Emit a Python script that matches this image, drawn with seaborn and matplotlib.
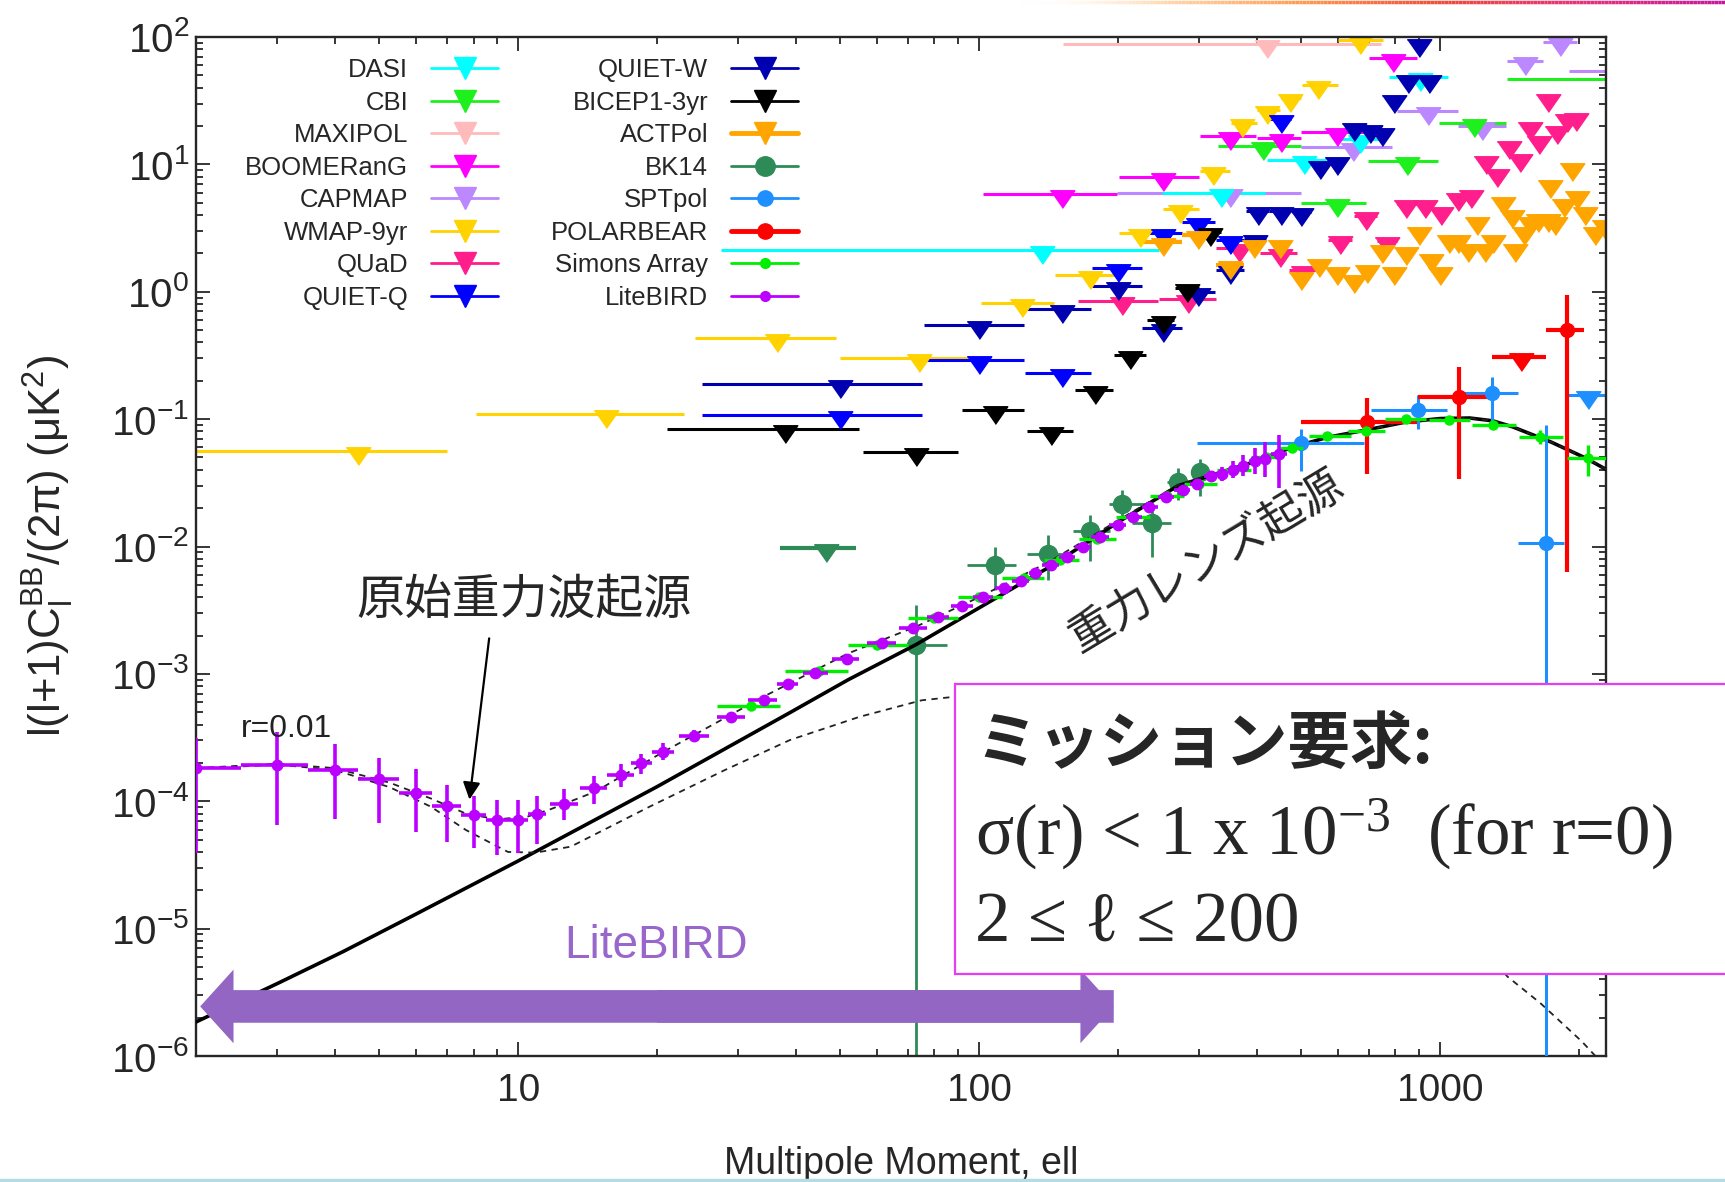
import numpy as np
import pandas as pd
import matplotlib
matplotlib.use('Agg')
import matplotlib.pyplot as plt
import matplotlib.ticker as mticker
from matplotlib.patches import Rectangle, FancyArrowPatch
from matplotlib.lines import Line2D
from matplotlib.collections import LineCollection
from matplotlib.colors import LinearSegmentedColormap
import seaborn as sns

# ---------------- theory curves ----------------
LENS_ELL = [2, 3, 4.17, 6, 10, 20, 39, 52, 73, 100, 142, 200, 270, 386, 477, 570,
            689, 844, 1000, 1160, 1300, 1436, 1742, 2056, 2300]
LENS_DL = [1.85e-6, 3.7e-6, 6.6e-6, 1.3e-5, 3.4e-5, 1.3e-4, 5.0e-4, 9.0e-4, 1.7e-3,
           3.3e-3, 6.9e-3, 0.0155, 0.030, 0.045, 0.060, 0.072, 0.082, 0.095, 0.101,
           0.102, 0.097, 0.087, 0.066, 0.050, 0.040]

TENS_ELL = [2, 3, 4, 5.26, 6.47, 7.7, 9.5, 10.9, 13, 19.2, 28, 38.9, 55, 75, 95, 130,
            180, 250, 350, 500, 700, 1000, 1400, 1650, 2030, 2300]
TENS_DL = [1.8e-4, 1.94e-4, 1.76e-4, 1.29e-4, 9.05e-5, 5.95e-5, 4.0e-5, 3.95e-5, 4.4e-5,
           9.0e-5, 1.75e-4, 3.03e-4, 4.6e-4, 6.2e-4, 6.8e-4, 6.5e-4, 5.0e-4, 3.2e-4,
           1.8e-4, 8.5e-5, 4.0e-5, 1.7e-5, 4.2e-6, 2.6e-6, 1.3e-6, 8e-7]

TOT_ELL = [2, 3, 4, 5.26, 6.47, 7.7, 9, 10.5, 11.7, 14.7, 20.4, 34, 52, 73, 100, 142,
           200, 270, 386, 477, 570, 689, 844, 1000, 1160, 1300, 1436, 1742, 2056, 2300]
TOT_DL = [1.82e-4, 1.97e-4, 1.82e-4, 1.4e-4, 1.05e-4, 8.0e-5, 7.2e-5, 7.6e-5, 8.6e-5,
          1.19e-4, 2.38e-4, 6.6e-4, 1.45e-3, 2.35e-3, 4.0e-3, 7.6e-3, 0.016, 0.0305,
          0.0455, 0.060, 0.072, 0.082, 0.095, 0.101, 0.102, 0.097, 0.087, 0.066, 0.050, 0.040]

# ---------------- upper limits: centre, bin low, bin high, value ----------------
DASI_ELL = [137, 334, 506, 670, 906]
DASI_LO = [27.5, 249, 422, 600, 773]
DASI_HI = [245, 417, 565, 740, 1040]
DASI_DL = [2.14, 6.0, 10.9, 15.9, 48.5]

CBI_ELL = [413, 597, 848, 1186, 2500]
CBI_LO = [330, 498, 699, 995, 1400]
CBI_HI = [498, 692, 989, 1390, 2700]
CBI_DL = [13.9, 5.0, 10.7, 21, 46.6]

MAXI_ELL = [422]
MAXI_LO = [152]
MAXI_HI = [743]
MAXI_DL = [88]

BOOM_ELL = [151, 250, 350, 451, 597, 789]
BOOM_LO = [102, 201, 302, 400, 500, 700]
BOOM_HI = [199, 300, 398, 500, 700, 890]
BOOM_DL = [5.9, 7.9, 16.6, 16, 18, 68]

CAP_ELL = [350, 647, 942, 1231, 1528, 1820, 2450]
CAP_LO = [199, 498, 807, 1091, 1400, 1675, 1900]
CAP_HI = [498, 788, 1091, 1390, 1675, 1980, 2700]
CAP_DL = [5.95, 13.6, 26.4, 20, 65, 91, 54]

WMAP_ELL = [4.5, 15.5, 36.5, 74, 124, 174, 223, 273, 322, 372, 422, 473, 543, 670]
WMAP_LO = [2, 8.1, 24.2, 50, 101, 146, 201, 251, 301, 351, 401, 451, 501, 601]
WMAP_HI = [7, 22.9, 49, 96, 145, 200, 250, 300, 350, 400, 450, 500, 600, 750]
WMAP_DL = [0.056, 0.11, 0.43, 0.30, 0.82, 1.35, 2.9, 4.5, 8.8, 21, 26.7, 33, 42, 95]

QUAD_ELL = [204, 284, 366, 449, 504, 607, 689, 767, 843, 927, 1004, 1092, 1166, 1259,
            1331, 1413, 1493, 1570, 1641, 1714, 1791, 1880, 1976]
QUAD_LO = [164, 245, 327, 406, 470, 570, 650, 730, 805, 885, 970, 1045, 1130, 1210,
           1300, 1370, 1455, 1530, 1605, 1680, 1750, 1830, 1930]
QUAD_HI = [244, 326, 405, 490, 540, 645, 730, 805, 885, 970, 1045, 1130, 1210, 1300,
           1370, 1450, 1530, 1605, 1680, 1750, 1830, 1930, 2020]
QUAD_DL = [0.85, 0.87, 2.2, 2.0, 1.49, 2.55, 3.9, 2.5, 4.9, 4.9, 4.3, 5.5, 5.9, 10.8,
           8.5, 14.2, 11.2, 20, 15.5, 33, 18.7, 23.2, 23.5]

QQ_ELL = [50, 100, 151, 200, 250, 298, 350, 451]
QQ_LO = [25, 76, 126, 176, 226, 276, 326, 426]
QQ_HI = [75, 125, 175, 225, 275, 325, 375, 475]
QQ_DL = [0.108, 0.29, 0.23, 1.54, 2.9, 3.55, 2.55, 22.8]

QW_ELL = [50, 100, 151, 200, 250, 298, 350, 397, 402, 451, 498, 550, 597, 651, 703,
          747, 794, 852, 900, 946]
QW_LO = [25, 76, 126, 176, 226, 276, 326, 376, 380, 426, 476, 526, 576, 626, 676,
         726, 776, 826, 876, 926]
QW_HI = [75, 125, 175, 225, 275, 325, 375, 420, 425, 475, 525, 575, 625, 675, 725,
         775, 825, 875, 925, 975]
QW_DL = [0.19, 0.55, 0.73, 1.10, 0.52, 1.0, 1.48, 2.6, 4.3, 4.3, 4.2, 9.8, 10.7, 19.6,
         19, 18, 32.8, 47, 89, 47]

B1_ELL = [38, 73, 108, 143, 178, 212, 250, 283, 317]
B1_LO = [21, 56, 92, 127, 161, 196, 231, 266, 301]
B1_HI = [55, 90, 125, 160, 195, 230, 265, 300, 335]
B1_DL = [0.083, 0.055, 0.118, 0.080, 0.17, 0.32, 0.60, 1.07, 2.94]

ACT_ELL = [250, 298, 350, 395, 449, 498, 547, 597, 651, 695, 747, 794, 843, 900, 957,
           999, 1044, 1095, 1148, 1203, 1253, 1303, 1370, 1430, 1450, 1518, 1570, 1630,
           1714, 1730, 1775, 1855, 1930, 1980, 2060, 2170, 2270]
ACT_LO = [226, 276, 326, 383, 436, 483, 531, 579, 632, 674, 725, 770, 818, 873, 928,
          969, 1013, 1062, 1114, 1167, 1215, 1264, 1329, 1387, 1407, 1472, 1523, 1581,
          1663, 1678, 1722, 1799, 1872, 1921, 1998, 2105, 2202]
ACT_HI = [275, 325, 375, 407, 462, 513, 563, 615, 670, 716, 769, 818, 868, 927, 986,
          1029, 1075, 1128, 1182, 1239, 1291, 1342, 1411, 1473, 1494, 1564, 1617, 1679,
          1765, 1782, 1828, 1911, 1988, 2039, 2122, 2235, 2338]
ACT_DL = [2.47, 2.8, 1.62, 2.36, 2.36, 1.33, 1.69, 1.45, 1.25, 1.5, 2.18, 1.45, 2.1,
          3.0, 1.84, 1.45, 2.6, 2.6, 2.2, 3.6, 2.2, 2.6, 5.2, 4.1, 2.2, 3.0, 3.6, 3.8,
          3.8, 7.0, 3.6, 5.0, 9.6, 5.7, 4.3, 3.0, 3.4]

BKU_ELL, BKU_LO, BKU_HI, BKU_DL = [46.6], [37], [54], [0.0098]
SPU_ELL, SPU_LO, SPU_HI, SPU_DL = [2090], [1890], [2300], [0.155]
PBU_ELL, PBU_LO, PBU_HI, PBU_DL = [1495], [1294], [1694], [0.307]

# ---------------- detections: centre, bin, value, error range ----------------
BK_ELL = [73, 108, 141, 174, 204, 237, 270, 302]
BK_LO = [62, 94, 127, 160, 191, 215, 255, 290]
BK_HI = [85, 120, 158, 192, 233, 261, 290, 320]
BK_DL = [0.0017, 0.0071, 0.0088, 0.0132, 0.0216, 0.0153, 0.032, 0.0386]
BK_YLO = [1e-7, 0.00457, 0.0055, 0.0077, 0.0172, 0.0083, 0.023, 0.025]
BK_YHI = [0.0035, 0.0100, 0.0124, 0.0178, 0.0279, 0.0191, 0.041, 0.049]

SP_ELL = [500, 895, 1294, 1694]
SP_LO = [297, 709, 1110, 1474]
SP_HI = [683, 1037, 1474, 1860]
SP_DL = [0.0645, 0.118, 0.161, 0.0106]
SP_YLO = [0.039, 0.083, 0.0875, 1e-7]
SP_YHI = [0.083, 0.155, 0.215, 0.0896]

PB_ELL = [695, 1100, 1880]
PB_LO = [500, 895, 1694]
PB_HI = [890, 1294, 2055]
PB_DL = [0.095, 0.149, 0.50]
PB_YLO = [0.037, 0.034, 0.0063]
PB_YHI = [0.146, 0.257, 0.94]

SA_ELL = [32, 45, 60, 80, 100, 125, 150, 180, 215, 255, 300, 355, 420, 477, 568, 689,
          844, 1044, 1303, 1648, 2090]
SA_LO = [27, 38, 52, 70, 90, 112, 138, 165, 198, 235, 278, 328, 388, 450, 519, 630,
         760, 945, 1175, 1480, 1880]
SA_HI = [37, 52, 70, 90, 112, 138, 165, 198, 235, 278, 328, 388, 450, 505, 641, 760,
         930, 1160, 1460, 1850, 2300]
SA_DL = [5.6e-4, 1.05e-3, 1.7e-3, 2.75e-3, 4.0e-3, 5.7e-3, 7.9e-3, 0.0115, 0.017,
         0.025, 0.031, 0.040, 0.050, 0.0597, 0.074, 0.080, 0.100, 0.098, 0.0905,
         0.0728, 0.0493]
SA_YLO = [5.3e-4, 1.0e-3, 1.62e-3, 2.62e-3, 3.8e-3, 5.4e-3, 7.5e-3, 0.0109, 0.0161,
          0.0237, 0.0294, 0.038, 0.047, 0.056, 0.070, 0.075, 0.094, 0.092, 0.084,
          0.064, 0.0355]
SA_YHI = [5.9e-4, 1.1e-3, 1.78e-3, 2.9e-3, 4.2e-3, 6.0e-3, 8.3e-3, 0.0121, 0.0179,
          0.0263, 0.0326, 0.042, 0.053, 0.063, 0.078, 0.085, 0.106, 0.105, 0.097,
          0.082, 0.063]

LB_ELL = [2, 3, 4, 5, 6, 7, 8, 9, 10, 11, 12.6, 14.6, 16.7, 18.5, 20.6, 24.1, 29, 34.1,
          38.5, 44.1, 51.6, 61.5, 72, 81.5, 92, 102, 113, 123, 132, 143, 155, 168, 183,
          200, 216, 234, 254, 277, 297, 318, 336, 356, 374, 396, 416, 447]
LB_LO = [1.5, 2.5, 3.5, 4.5, 5.5, 6.5, 7.5, 8.5, 9.5, 10.5, 11.7, 13.6, 15.6, 17.6,
         19.5, 22.3, 27, 31.5, 36.5, 41.5, 48, 57, 67, 77, 87, 97, 108, 118, 128, 137,
         149, 161, 175, 191, 208, 225, 244, 265, 287, 307, 327, 346, 365, 385, 406, 430]
LB_HI = [2.5, 3.5, 4.5, 5.5, 6.5, 7.5, 8.5, 9.5, 10.5, 11.5, 13.5, 15.6, 17.8, 19.5,
         21.8, 26, 31, 36.5, 40.5, 47, 55, 66, 77, 86, 97, 107, 118, 128, 137, 149, 161,
         175, 191, 208, 225, 244, 265, 287, 307, 327, 346, 365, 385, 406, 430, 465]
LB_DL = [1.81e-4, 1.92e-4, 1.76e-4, 1.49e-4, 1.17e-4, 9.2e-5, 7.8e-5, 7.1e-5, 7.1e-5,
         7.9e-5, 9.5e-5, 1.26e-4, 1.6e-4, 1.98e-4, 2.45e-4, 3.26e-4, 4.6e-4, 6.2e-4,
         8.3e-4, 1.01e-3, 1.32e-3, 1.76e-3, 2.3e-3, 2.8e-3, 3.4e-3, 4.0e-3, 4.7e-3,
         5.4e-3, 6.2e-3, 7.2e-3, 8.3e-3, 0.010, 0.0119, 0.0147, 0.0171, 0.0205, 0.0246,
         0.0277, 0.031, 0.0355, 0.037, 0.040, 0.043, 0.0466, 0.049, 0.053]
LB_YLO = [3.9e-5, 6.5e-5, 7.2e-5, 6.8e-5, 5.7e-5, 4.8e-5, 4.3e-5, 3.8e-5, 3.9e-5,
          4.6e-5, 7.1e-5, 9.6e-5, 1.3e-4, 1.65e-4, 2.1e-4, 2.9e-4, 4.3e-4, 5.8e-4,
          7.8e-4, 9.5e-4, 1.25e-3, 1.67e-3, 2.2e-3, 2.68e-3, 3.25e-3, 3.85e-3, 4.5e-3,
          5.2e-3, 6.0e-3, 6.95e-3, 8.0e-3, 9.6e-3, 0.0113, 0.0138, 0.0160, 0.0190,
          0.0228, 0.0255, 0.0283, 0.0320, 0.0325, 0.0345, 0.036, 0.037, 0.035, 0.0286]
LB_YHI = [3.16e-4, 3.5e-4, 2.8e-4, 2.2e-4, 1.8e-4, 1.35e-4, 1.1e-4, 1.03e-4, 1.03e-4,
          1.1e-4, 1.25e-4, 1.58e-4, 1.95e-4, 2.35e-4, 2.85e-4, 3.6e-4, 4.9e-4, 6.6e-4,
          8.8e-4, 1.07e-3, 1.39e-3, 1.85e-3, 2.4e-3, 2.92e-3, 3.55e-3, 4.15e-3, 4.9e-3,
          5.6e-3, 6.4e-3, 7.45e-3, 8.6e-3, 0.0104, 0.0125, 0.0156, 0.0182, 0.0220,
          0.0265, 0.0300, 0.0340, 0.0395, 0.0420, 0.0465, 0.052, 0.059, 0.066, 0.0754]

LITEBIRD_RANGE = (2, 200)

COLORS = {
    'DASI': '#00FFFF', 'CBI': '#1EF01E', 'MAXIPOL': '#FFBBBB', 'BOOMERanG': '#FF00FF',
    'CAPMAP': '#BB88FF', 'WMAP-9yr': '#FFD200', 'QUaD': '#FF1E8C', 'QUIET-Q': '#0000FF',
    'QUIET-W': '#0000B0', 'BICEP1-3yr': '#000000', 'ACTPol': '#FFA500', 'BK14': '#2E8B57',
    'SPTpol': '#1E8FFF', 'POLARBEAR': '#FF0000', 'Simons Array': '#00EE00',
    'LiteBIRD': '#BB00FF',
}

# triangle hanging just below the limit value
TRI = [(-1.15, 0.35), (1.15, 0.35), (0, -1.3)]

sns.set_style('ticks')
plt.rcParams['font.family'] = ['Liberation Sans', 'Noto Sans CJK JP', 'DejaVu Sans']
plt.rcParams['axes.linewidth'] = 1.7
plt.rcParams['lines.dashed_pattern'] = (3.5, 3.0)

fig = plt.figure(figsize=(17.25, 11.82), dpi=100)
ax = fig.add_axes([196 / 1725, 1 - 1056 / 1182, 1410 / 1725, 1019 / 1182])
ax.set_xscale('log')
ax.set_yscale('log')


def limits(ell, lo, hi, dl, name, lw=2.2, ms=20, z=2.2):
    ell = np.asarray(ell, float)
    ax.errorbar(ell, dl, xerr=[ell - np.asarray(lo), np.asarray(hi) - ell],
                marker=TRI, ms=ms, ls='none', color=COLORS[name], mec=COLORS[name],
                elinewidth=lw, capsize=0, zorder=z)


def points(ell, lo, hi, dl, ylo, yhi, name, ms, lw, z):
    ell = np.asarray(ell, float)
    dl = np.asarray(dl, float)
    ax.errorbar(ell, dl, xerr=[ell - np.asarray(lo), np.asarray(hi) - ell],
                yerr=[dl - np.asarray(ylo), np.asarray(yhi) - dl], fmt='o', ms=ms,
                color=COLORS[name], mec=COLORS[name], elinewidth=lw, capsize=0, zorder=z)


limits(MAXI_ELL, MAXI_LO, MAXI_HI, MAXI_DL, 'MAXIPOL')
limits(CAP_ELL, CAP_LO, CAP_HI, CAP_DL, 'CAPMAP')
limits(DASI_ELL, DASI_LO, DASI_HI, DASI_DL, 'DASI')
limits(CBI_ELL, CBI_LO, CBI_HI, CBI_DL, 'CBI')
limits(BOOM_ELL, BOOM_LO, BOOM_HI, BOOM_DL, 'BOOMERanG')
limits(WMAP_ELL, WMAP_LO, WMAP_HI, WMAP_DL, 'WMAP-9yr')
limits(QUAD_ELL, QUAD_LO, QUAD_HI, QUAD_DL, 'QUaD')
limits(QW_ELL, QW_LO, QW_HI, QW_DL, 'QUIET-W')
limits(QQ_ELL, QQ_LO, QQ_HI, QQ_DL, 'QUIET-Q')
limits(B1_ELL, B1_LO, B1_HI, B1_DL, 'BICEP1-3yr')
limits(ACT_ELL, ACT_LO, ACT_HI, ACT_DL, 'ACTPol', lw=3.0)
limits(BKU_ELL, BKU_LO, BKU_HI, BKU_DL, 'BK14', lw=3.0)
limits(SPU_ELL, SPU_LO, SPU_HI, SPU_DL, 'SPTpol')
limits(PBU_ELL, PBU_LO, PBU_HI, PBU_DL, 'POLARBEAR', lw=3.0)

points(BK_ELL, BK_LO, BK_HI, BK_DL, BK_YLO, BK_YHI, 'BK14', ms=13, lw=2.0, z=2.3)

# theory curves
sns.lineplot(x=LENS_ELL, y=LENS_DL, ax=ax, color='black', lw=2.6, zorder=2.6,
             estimator=None, sort=False)
sns.lineplot(x=TENS_ELL, y=TENS_DL, ax=ax, color='#222222', lw=1.3, linestyle='--',
             zorder=2.6, estimator=None, sort=False)
sns.lineplot(x=TOT_ELL, y=TOT_DL, ax=ax, color='#222222', lw=1.3, linestyle='--',
             zorder=2.6, estimator=None, sort=False)

points(SP_ELL, SP_LO, SP_HI, SP_DL, SP_YLO, SP_YHI, 'SPTpol', ms=10, lw=2.2, z=2.7)
points(PB_ELL, PB_LO, PB_HI, PB_DL, PB_YLO, PB_YHI, 'POLARBEAR', ms=10, lw=3.0, z=2.8)
points(SA_ELL, SA_LO, SA_HI, SA_DL, SA_YLO, SA_YHI, 'Simons Array', ms=6.5, lw=2.4, z=2.9)
points(LB_ELL, LB_LO, LB_HI, LB_DL, LB_YLO, LB_YHI, 'LiteBIRD', ms=7.5, lw=2.6, z=3.0)

ax.set_xlim(2, 2290)
ax.set_ylim(1e-6, 1e2)

# ticks
ax.xaxis.set_major_locator(mticker.LogLocator(base=10, numticks=10))
ax.xaxis.set_minor_locator(mticker.LogLocator(base=10, subs=np.arange(2, 10), numticks=100))
ax.yaxis.set_major_locator(mticker.LogLocator(base=10, numticks=20))
ax.yaxis.set_minor_locator(mticker.LogLocator(base=10, subs=np.arange(2, 10), numticks=100))
ax.xaxis.set_major_formatter(mticker.FuncFormatter(lambda v, p: f'{v:g}'))
ax.xaxis.set_minor_formatter(mticker.NullFormatter())
ax.yaxis.set_major_formatter(mticker.FuncFormatter(
    lambda v, p: r'$\mathregular{10^{%d}}$' % round(np.log10(v))))
ax.yaxis.set_minor_formatter(mticker.NullFormatter())
ax.tick_params(which='both', direction='in', top=True, right=True, width=1.1, color='black')
ax.tick_params(which='major', length=10)
ax.tick_params(which='minor', length=5)
ax.tick_params(axis='x', which='major', labelsize=28, pad=12)
ax.tick_params(axis='y', which='major', labelsize=29, pad=5)

ax.set_xlabel('Multipole Moment, ell', fontsize=27)
ax.xaxis.set_label_coords(0.5, -0.088)
ax.set_ylabel(r'l(l+1)$\mathregular{C_l^{BB}}$/(2π) (μ$\mathregular{K^2}$)', fontsize=31.5)
ax.yaxis.set_label_coords(-0.085, 0.5)

# legend, two right-aligned columns
def handle(name, marker, ms, lw=2.0):
    return Line2D([], [], color=COLORS[name], marker=marker, ms=ms, lw=lw, mec=COLORS[name])

col1 = ['DASI', 'CBI', 'MAXIPOL', 'BOOMERanG', 'CAPMAP', 'WMAP-9yr', 'QUaD', 'QUIET-Q']
col2 = ['QUIET-W', 'BICEP1-3yr', 'ACTPol', 'BK14', 'SPTpol', 'POLARBEAR', 'Simons Array',
        'LiteBIRD']
h1 = [handle(n, 'v', 16) for n in col1]
h2 = [handle('QUIET-W', 'v', 16), handle('BICEP1-3yr', 'v', 16),
      handle('ACTPol', 'v', 16, lw=3.5), handle('BK14', 'o', 14),
      handle('SPTpol', 'o', 11), handle('POLARBEAR', 'o', 11, lw=3.5),
      handle('Simons Array', 'o', 7), handle('LiteBIRD', 'o', 7)]
leg_kw = dict(loc='upper right', frameon=False, markerfirst=False, fontsize=18.5,
              handlelength=2.6, handletextpad=0.9, labelspacing=0.33, borderpad=0,
              borderaxespad=0)
leg1 = ax.legend(h1, col1, bbox_to_anchor=(0.2142, 0.979), **leg_kw)
ax.add_artist(leg1)
ax.legend(h2, col2, bbox_to_anchor=(0.427, 0.979), **leg_kw)

# annotations
ax.text(2.5, 3.2e-4, 'r=0.01', fontsize=23, color='#222222', va='baseline', ha='left')
ax.text(10.3, 3.8e-3, '原始重力波起源', fontsize=34.5, ha='center', va='center',
        family=['Noto Sans CJK JP'])
ax.annotate('', xy=(7.84, 1.03e-4), xytext=(8.65, 1.9e-3),
            arrowprops=dict(arrowstyle='-|>', color='black', lw=1.6, mutation_scale=26,
                            shrinkA=0, shrinkB=0))
ax.text(312, 7.7e-3, '重力レンズ起源', fontsize=32, ha='center', va='center',
        rotation=31, rotation_mode='anchor', family=['Noto Sans CJK JP'])
ax.text(19.9, 7.3e-6, 'LiteBIRD', fontsize=33, color='#9966CC', ha='center', va='center')

# LiteBIRD multipole range: one full-length arrow plus a second head on the other end
arrow_y = 2.45e-6
arrow_mid = np.sqrt(LITEBIRD_RANGE[0] * LITEBIRD_RANGE[1])
arrow_style = 'simple,head_length=2.4,head_width=5.3,tail_width=2.35'
ax.add_patch(FancyArrowPatch((LITEBIRD_RANGE[1], arrow_y), (LITEBIRD_RANGE[0], arrow_y),
                             arrowstyle=arrow_style, mutation_scale=10, color='#9466C4',
                             lw=0, shrinkA=3, shrinkB=3, zorder=6, clip_on=False))
ax.add_patch(FancyArrowPatch((arrow_mid, arrow_y), (LITEBIRD_RANGE[1], arrow_y),
                             arrowstyle=arrow_style, mutation_scale=10, color='#9466C4',
                             lw=0, shrinkA=0, shrinkB=3, zorder=6, clip_on=False))

# mission requirement box
ax.add_patch(Rectangle((0.5383, 0.0805), 0.6, 0.2846, transform=ax.transAxes,
                       facecolor='white', edgecolor='#E63CF5', lw=1.6, zorder=10,
                       clip_on=False))
ax.text(0.5525, 0.2875, 'ミッション要求:', transform=ax.transAxes, fontsize=45,
        fontweight='bold', va='baseline', ha='left', zorder=11,
        family=['Noto Sans CJK JP'])
ax.text(0.5525, 0.1973, r'σ(r) < 1 x $\mathregular{10^{-3}}$  (for r=0)',
        transform=ax.transAxes, fontsize=51, va='baseline', ha='left', zorder=11,
        family=['Liberation Serif', 'DejaVu Serif'])
ax.text(0.5525, 0.1119, '2 ≤ ℓ ≤ 200', transform=ax.transAxes, fontsize=51,
        va='baseline', ha='left', zorder=11, family=['Liberation Serif', 'DejaVu Serif'])

# slide decorations: light-blue rule at the bottom, warm gradient rule at the top right
fig.add_artist(Line2D([0, 1], [0.002, 0.002], transform=fig.transFigure,
                      color='#B3DCE6', lw=2.5))
grad = LinearSegmentedColormap.from_list(
    'slide', [(1, 1, 1, 0), '#FFD9B0', '#FF9A50', '#F04A3A', '#E8307A', '#C41A9A'])
gx = np.linspace(0.59, 1.0, 200)
segs = [[(a, 0.9985), (b, 0.9985)] for a, b in zip(gx[:-1], gx[1:])]
fig.add_artist(LineCollection(segs, colors=grad(np.linspace(0, 1, len(segs))),
                              linewidths=2.5, transform=fig.transFigure))

fig.savefig('out.png', dpi=100)
